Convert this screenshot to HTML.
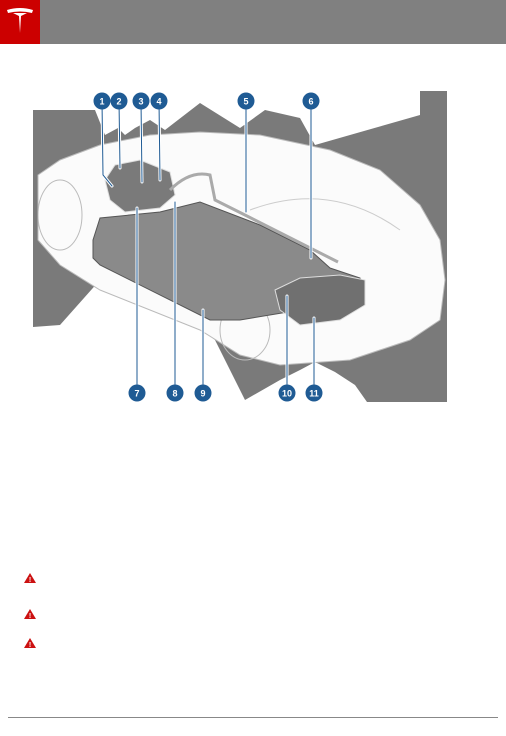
<!DOCTYPE html>
<html><head><meta charset="utf-8"><style>
body{margin:0;width:506px;height:736px;background:#fff;overflow:hidden;position:relative;font-family:"Liberation Sans",sans-serif}
</style></head><body>
<div style="position:absolute;left:0;top:0;width:506px;height:44px;background:#808080"></div>
<div style="position:absolute;left:0;top:0;width:40px;height:44px;background:#cc0000">
<svg width="40" height="44"><path d="M7,10 Q20,6 33,10 L32,13 Q20,10 8,13Z" fill="#fff"/><path d="M13,13 L27,13 L21,16 L20,33 L19,16Z" fill="#fff"/></svg></div>
<svg width="506" height="736" style="position:absolute;left:0;top:0">
<polygon fill="#7a7a7a" points="33,110 95,110 105,135 118,128 125,135 135,128 150,120 165,130 200,103 240,128 265,110 300,118 315,145 420,115 420,91 447,91 447,402 367,402 355,385 335,372 315,362 300,370 280,380 245,400 230,370 215,340 190,320 165,305 150,310 140,290 100,280 60,325 33,327"/>
<polygon fill="#fbfbfb" stroke="#bbb" points="38,175 60,160 100,145 150,135 200,132 260,135 330,150 380,170 420,205 440,240 445,280 440,320 410,340 350,360 280,365 240,355 200,330 150,310 100,290 60,265 38,240"/>
<ellipse cx="60" cy="215" rx="22" ry="35" fill="none" stroke="#bbb"/>
<ellipse cx="245" cy="330" rx="25" ry="30" fill="none" stroke="#bbb"/>
<path d="M250,210 Q330,180 400,230" fill="none" stroke="#ccc"/>
<polygon fill="#8a8a8a" stroke="#555" points="93,240 100,218 160,212 200,202 260,225 310,250 330,268 360,278 365,300 340,315 300,310 240,320 210,320 100,265 93,258"/>
<polygon fill="#7a7a7a" stroke="#ddd" points="105,180 115,165 140,160 170,172 175,195 160,208 125,212 110,200"/>
<polygon fill="#707070" stroke="#ddd" points="275,290 300,278 340,275 365,280 365,305 340,320 300,325 280,310"/>
<path d="M170,190 Q190,170 210,175 L215,200 L245,215 L338,262" fill="none" stroke="#aaa" stroke-width="3"/>
<g fill="none" stroke-linecap="round">
<g stroke="#fff" stroke-width="3">
<polyline points="102,101 103,175 112,186"/><line x1="119" y1="101" x2="120" y2="168"/><line x1="141" y1="101" x2="142" y2="182"/><line x1="159" y1="101" x2="160" y2="180"/><line x1="246" y1="101" x2="246" y2="212"/><line x1="311" y1="101" x2="311" y2="258"/>
<line x1="137" y1="393" x2="137" y2="208"/><line x1="175" y1="393" x2="175" y2="202"/><line x1="203" y1="393" x2="203" y2="310"/><line x1="287" y1="393" x2="287" y2="296"/><line x1="314" y1="393" x2="314" y2="318"/>
</g>
<g stroke="#1f5b94" stroke-width="1">
<polyline points="102,101 103,175 112,186"/><line x1="119" y1="101" x2="120" y2="168"/><line x1="141" y1="101" x2="142" y2="182"/><line x1="159" y1="101" x2="160" y2="180"/><line x1="246" y1="101" x2="246" y2="212"/><line x1="311" y1="101" x2="311" y2="258"/>
<line x1="137" y1="393" x2="137" y2="208"/><line x1="175" y1="393" x2="175" y2="202"/><line x1="203" y1="393" x2="203" y2="310"/><line x1="287" y1="393" x2="287" y2="296"/><line x1="314" y1="393" x2="314" y2="318"/>
</g></g>
<g fill="#1f5b94" font-size="9" font-weight="bold" text-anchor="middle">
<g><circle cx="102" cy="101" r="8.5"/><text x="102" y="104.5" fill="#fff">1</text></g>
<g><circle cx="119" cy="101" r="8.5"/><text x="119" y="104.5" fill="#fff">2</text></g>
<g><circle cx="141" cy="101" r="8.5"/><text x="141" y="104.5" fill="#fff">3</text></g>
<g><circle cx="159" cy="101" r="8.5"/><text x="159" y="104.5" fill="#fff">4</text></g>
<g><circle cx="246" cy="101" r="8.5"/><text x="246" y="104.5" fill="#fff">5</text></g>
<g><circle cx="311" cy="101" r="8.5"/><text x="311" y="104.5" fill="#fff">6</text></g>
<g><circle cx="137" cy="393" r="8.5"/><text x="137" y="396.5" fill="#fff">7</text></g>
<g><circle cx="175" cy="393" r="8.5"/><text x="175" y="396.5" fill="#fff">8</text></g>
<g><circle cx="203" cy="393" r="8.5"/><text x="203" y="396.5" fill="#fff">9</text></g>
<g><circle cx="287" cy="393" r="8.5"/><text x="287" y="396.5" fill="#fff">10</text></g>
<g><circle cx="314" cy="393" r="8.5"/><text x="314" y="396.5" fill="#fff">11</text></g>
</g>
<g fill="#cc1111">
<g><polygon points="30,573 36,583 24,583"/><text x="30" y="582" fill="#fff" font-size="7" text-anchor="middle" font-weight="bold">!</text></g>
<g><polygon points="30,609 36,619 24,619"/><text x="30" y="618" fill="#fff" font-size="7" text-anchor="middle" font-weight="bold">!</text></g>
<g><polygon points="30,638 36,648 24,648"/><text x="30" y="647" fill="#fff" font-size="7" text-anchor="middle" font-weight="bold">!</text></g>
</g>
<line x1="8" y1="717.5" x2="498" y2="717.5" stroke="#888"/>
</svg>
</body></html>
